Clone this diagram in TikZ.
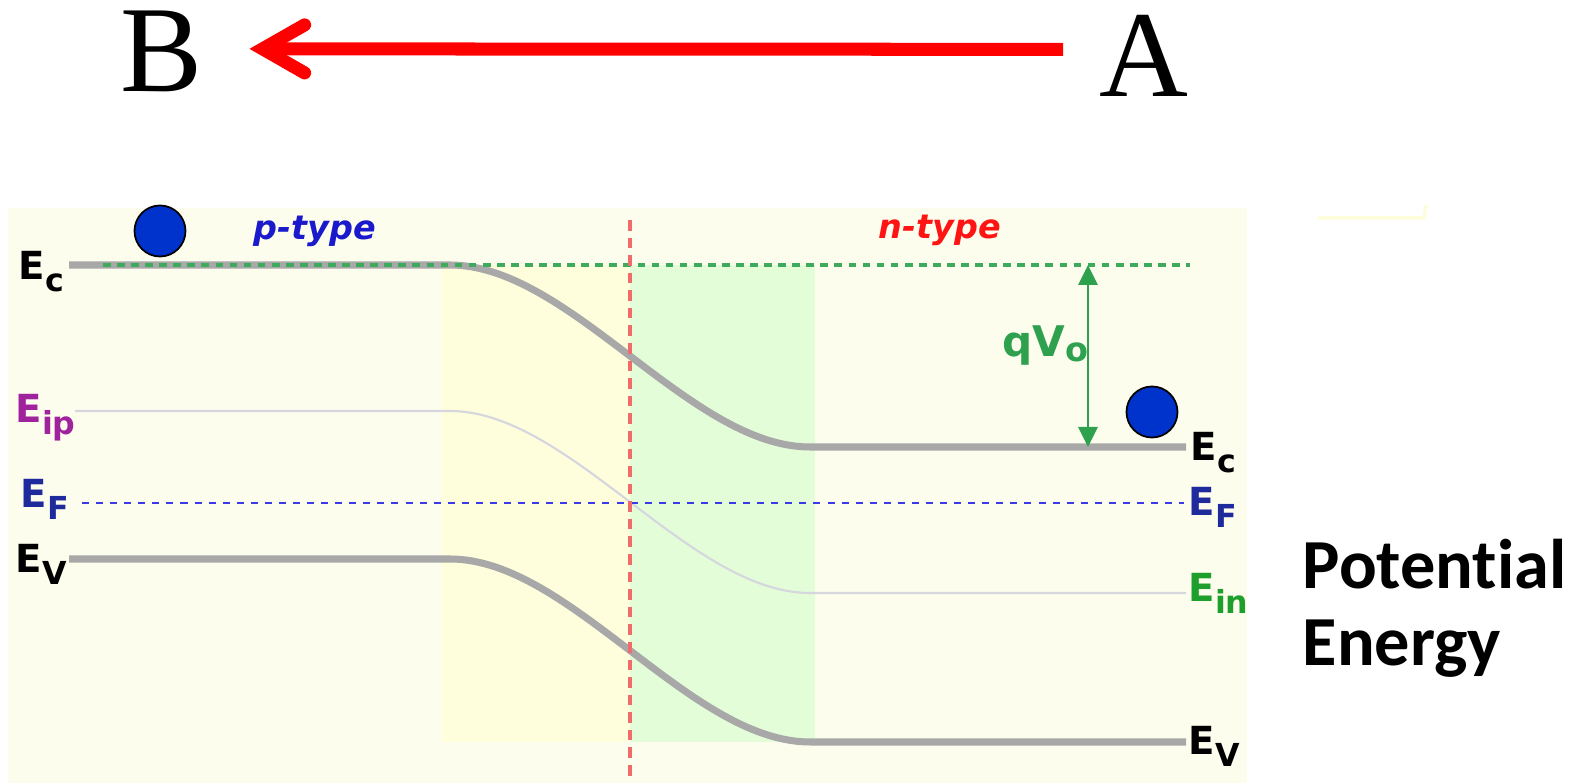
\documentclass[tikz,border=0pt]{standalone}
\usepackage{fontspec}
\setmainfont{Liberation Serif}
\setsansfont{DejaVu Sans}
\newfontfamily\calibfont[Ligatures=NoCommon]{Carlito}
\usepackage{xcolor}
\usepackage{tikz}
\usetikzlibrary{arrows.meta}

\definecolor{panelbg}{HTML}{FDFDEE}
\definecolor{depyel}{HTML}{FEFDDC}
\definecolor{depgrn}{HTML}{E3FDD8}
\definecolor{bandgray}{HTML}{A8A8A8}
\definecolor{eiline}{HTML}{D6D6DE}
\definecolor{efblue}{HTML}{3A3AE8}
\definecolor{ecgreen}{HTML}{3DAA5C}
\definecolor{vred}{HTML}{F26B6B}
\definecolor{qgreen}{HTML}{2EA04E}
\definecolor{eipurple}{HTML}{A0239E}
\definecolor{efnavy}{HTML}{1F2A9C}
\definecolor{eingreen}{HTML}{1E9E2A}
\definecolor{ptblue}{HTML}{1A1ACC}
\definecolor{ntred}{HTML}{FF1414}
\definecolor{dotblue}{HTML}{0033CC}

\newcommand{\lev}[1]{E\raisebox{-3.4pt}{\fontsize{9}{9}\selectfont #1}}

\begin{document}
\begin{tikzpicture}[x=0.01cm,y=-0.01cm,
    band/.style={line width=2pt,bandgray},
    lbl/.style={anchor=base west,inner sep=0pt,font=\sffamily\bfseries\fontsize{11}{13}\selectfont},
    carrier/.style={circle,draw=black,fill=dotblue,line width=0.5pt,minimum size=0.51cm,inner sep=0pt},
    letter/.style={anchor=base west,inner sep=0pt,font=\fontsize{35}{40}\selectfont}]
    \useasboundingbox (0,0) rectangle (1587,783);

    % regions
    \fill[panelbg] (8,208) rectangle (1247,783);
    \fill[depyel] (442,265) rectangle (630,742);
    \fill[depgrn] (630,265) rectangle (815,742);
    \draw[line width=1pt,panelbg!92!yellow] (1318,218) -- (1424,218) -- (1426,205);

    % bands
    \draw[eiline,line width=0.6pt] (75,411) -- (450,411) .. controls (570,411) and (690,593) .. (810,593) -- (1186,593);
    \draw[band] (69,265) -- (450,265) .. controls (570,265) and (690,447) .. (810,447) -- (1186,447);
    \draw[band] (69,559) -- (450,559) .. controls (570,559) and (690,742) .. (810,742) -- (1186,742);
    \draw[efblue,line width=0.8pt,dash pattern=on 2pt off 2pt] (82,503) -- (1184,503);
    \draw[ecgreen,line width=1pt,dash pattern=on 2.2pt off 1.8pt] (103,265) -- (1190,265);
    \draw[vred,line width=1.3pt,dash pattern=on 3pt off 2pt] (630,220) -- (630,783);

    % built-in potential
    \coordinate (qtop) at (1088,265);
    \coordinate (qbot) at (1088,447);
    \draw[qgreen,line width=0.8pt,{Triangle[length=2mm,width=1.9mm]}-{Triangle[length=2mm,width=1.9mm]}] (qtop) -- (qbot);
    \node[lbl,qgreen,font=\sffamily\bfseries\fontsize{12}{14}\selectfont] (qvo) at (1002,357) {qV\raisebox{-1.4pt}{\fontsize{9.5}{10}\selectfont o}};

    % carriers
    \node[carrier] (eleP) at (160,231) {};
    \node[carrier] (eleN) at (1152,412) {};

    % side labels
    \node[lbl,ptblue,font=\sffamily\bfseries\itshape\fontsize{9.5}{11}\selectfont] (ptype) at (253,240) {p-type};
    \node[lbl,ntred,font=\sffamily\bfseries\itshape\fontsize{9.5}{11}\selectfont] (ntype) at (878,239) {n-type};
    \node[lbl] (ecL) at (18,280) {\lev{c}};
    \node[lbl,eipurple] (eipL) at (15,423) {\lev{ip}};
    \node[lbl,efnavy] (efL) at (20,508) {\lev{F}};
    \node[lbl] (evL) at (15,573) {\lev{V}};
    \node[lbl] (ecR) at (1190,461) {\lev{c}};
    \node[lbl,efnavy] (efR) at (1188,516) {\lev{F}};
    \node[lbl,eingreen] (einR) at (1188,602) {\lev{in}};
    \node[lbl] (evR) at (1188,755) {\lev{V}};

    \node[anchor=base west,inner sep=0pt,font=\calibfont\bfseries\fontsize{20}{22}\selectfont] (potE) at (1302,589) {Potential};
    \node[anchor=base west,inner sep=0pt,font=\calibfont\bfseries\fontsize{20}{22}\selectfont] (enE) at (1302,666) {Energy};

    % direction
    \node[letter] (ptB) at (120,92) {B};
    \node[letter] (ptA) at (1099,97) {A};
    \draw[red,line width=3.7pt,-{Straight Barb[length=4.2mm,width=4.8mm,line cap=round]}] ([shift={(-36,-7)}]ptA.west) -- ([shift={(46,-3)}]ptB.east);
\end{tikzpicture}
\end{document}
